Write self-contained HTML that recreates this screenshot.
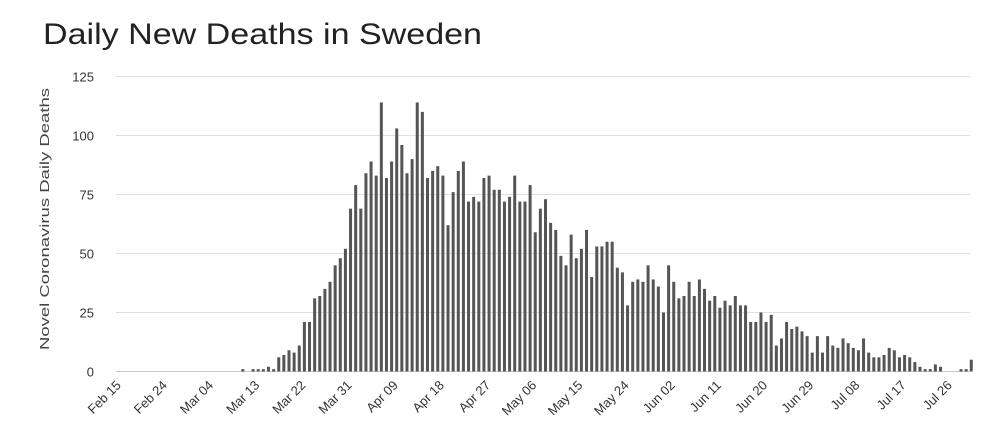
<!DOCTYPE html>
<html><head><meta charset="utf-8">
<style>
html,body{margin:0;padding:0;background:#fff;}
svg{display:block;font-family:"Liberation Sans","DejaVu Sans",sans-serif;}
</style></head>
<body>
<svg id="chart" width="1000" height="444" viewBox="0 0 1000 444">
<text x="43" y="44" font-size="30" fill="#222" textLength="439" lengthAdjust="spacingAndGlyphs">Daily New Deaths in Sweden</text>
<text transform="translate(49,219) rotate(-90)" text-anchor="middle" font-size="13" fill="#444" textLength="262" lengthAdjust="spacingAndGlyphs">Novel Coronavirus Daily Deaths</text>
<g id="grid"></g><g id="yticks"></g><g id="bars"></g><g id="xticks"></g>
</svg>
<script>
const yTickValues=[0,25,50,75,100,125];
const startDate=[2020,1,15];
const tickEvery=9;
const numTicks=19;
// daily values starting Feb 15 (day 0)
const values=[0,0,0,0,0,0,0,0,0,0,0,0,0,0,0,0,0,0,0,0,0,0,0,0,
1,0,1,1,1,2,1,
6,7,9,8,11,21,21,31,32,35,38,45,48,52,69,79,69,84,89,83,114,82,89,103,96,84,90,114,110,82,85,87,83,62,76,85,89,72,74,72,
82,83,77,77,72,74,83,72,72,79,59,69,73,63,60,49,45,58,48,52,60,40,53,53,55,55,44,42,28,38,39,38,45,39,36,25,45,38,31,32,38,32,39,35,30,32,
27,30,28,32,28,28,21,21,25,21,24,11,14,21,18,19,17,15,8,15,8,15,11,10,14,12,10,9,14,8,6,6,7,10,9,6,7,6,4,2,1,1,3,2,0,0,0,1,1,5];
const NS="http://www.w3.org/2000/svg";
const x0=119.7, dx=5.13, y0=371.5, pxPerUnit=2.36;
function xScale(d){return x0+dx*d;}
function yScale(v){return y0-v*pxPerUnit;}
const grid=document.getElementById('grid'),yt=document.getElementById('yticks'),bars=document.getElementById('bars'),xt=document.getElementById('xticks');
yTickValues.forEach(v=>{
  const l=document.createElementNS(NS,'line');
  
  
  l.setAttribute('x1',116);l.setAttribute('x2',970);
  l.setAttribute('y1',yScale(v));l.setAttribute('y2',yScale(v));
  l.setAttribute('stroke',v===0?'#c8c8c8':'#e0e0e0');l.setAttribute('stroke-width',1);
  grid.appendChild(l);
  const t=document.createElementNS(NS,'text');
  
  
  t.setAttribute('x',94);t.setAttribute('y',yScale(v)+5);
  t.setAttribute('text-anchor','end');t.setAttribute('font-size','13');t.setAttribute('fill','#333');
  t.textContent=v;yt.appendChild(t);
});
values.forEach((v,i)=>{
  if(v<=0)return;
  const r=document.createElementNS(NS,'rect');
  
  
  r.setAttribute('x',xScale(i)-1.5);r.setAttribute('width',3);
  r.setAttribute('y',yScale(v));r.setAttribute('height',v*pxPerUnit);
  r.setAttribute('fill','#555');
  bars.appendChild(r);
});
const months=['Jan','Feb','Mar','Apr','May','Jun','Jul','Aug'];
for(let k=0;k<numTicks;k++){
  const d=new Date(startDate[0],startDate[1],startDate[2]+k*tickEvery);
  const lbl=months[d.getMonth()]+' '+String(d.getDate()).padStart(2,'0');
  const t=document.createElementNS(NS,'text');
  
  
  const x=xScale(k*tickEvery)+2,y=386;
  t.setAttribute('transform','translate('+x+','+y+') rotate(-45)');
  t.setAttribute('text-anchor','end');t.setAttribute('font-size','13');t.setAttribute('fill','#333');
  t.textContent=lbl;
  xt.appendChild(t);
}
</script>
</body></html>
